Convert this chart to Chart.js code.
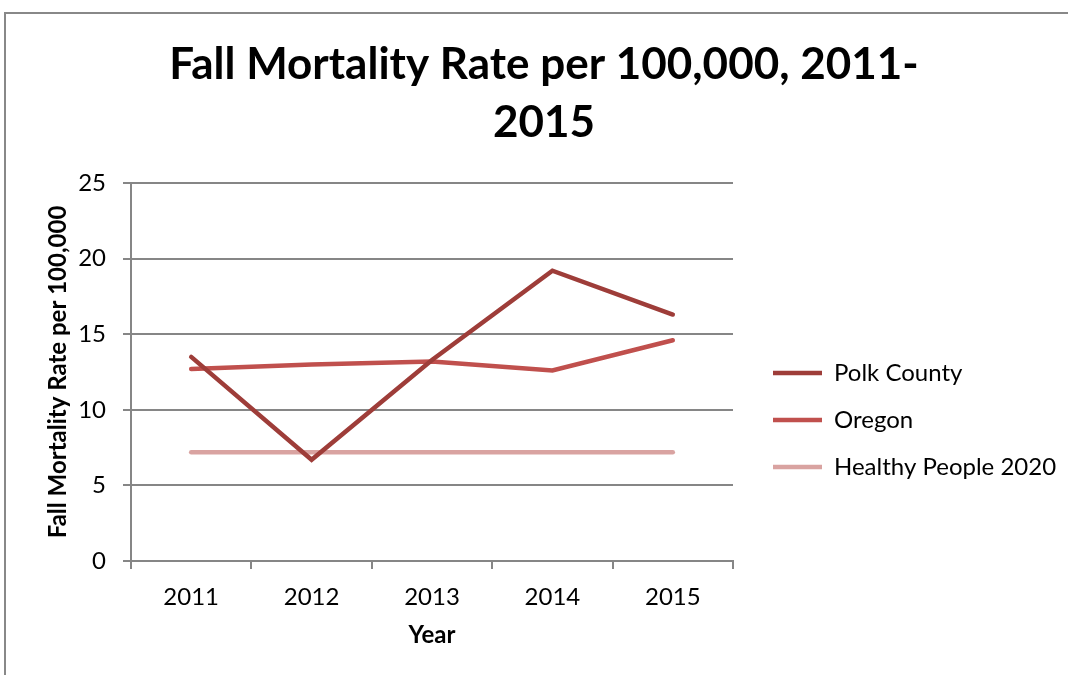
<!DOCTYPE html>
<html>
<head>
<meta charset="utf-8">
<script src="https://cdn.jsdelivr.net/npm/chart.js@4/dist/chart.umd.min.js"></script>
<style>
	html, body {
		margin: 0;
		padding: 0;
		background: #ffffff;
		overflow: hidden;
	}
	#frame {
		position: absolute;
		left: 4px;
		top: 12px;
		width: 1100px;
		height: 700px;
		border-left: 2px solid #888888;
		border-top: 2px solid #888888;
	}
	#wrap {
		position: absolute;
		left: 0;
		top: 0;
		width: 1068px;
		height: 675px;
	}
</style>
</head>
<body>
<div id="frame"></div>
<div id="wrap"><canvas id="fallChart" width="1068" height="675"></canvas></div>
<script>
const years = ['2011', '2012', '2013', '2014', '2015'];
const polkCounty = [13.5, 6.7, 13.3, 19.2, 16.3];
const oregon = [12.7, 13.0, 13.2, 12.6, 14.6];
const healthyPeople2020 = [7.2, 7.2, 7.2, 7.2, 7.2];
const seriesNames = ['Polk County', 'Oregon', 'Healthy People 2020'];
const titleLines = ['Fall Mortality Rate per 100,000, 2011-', '2015'];
const yTicks = [0, 5, 10, 15, 20, 25];

const fontFamily = 'Lato, "Open Sans", sans-serif';
const gridColor = '#868686';
const legendFontSize = 24;
const legendPadding = 23;
const legendLine = 49;

//Work out how wide the legend will be so the plot ends where it should
const measureCtx = document.createElement('canvas').getContext('2d');
measureCtx.font = legendFontSize + 'px ' + fontFamily;
let legendTextWidth = 0;
seriesNames.forEach(function(name) {
	legendTextWidth = Math.max(legendTextWidth, measureCtx.measureText(name).width);
});
const legendWidth = legendPadding + legendLine + legendFontSize / 2 + legendTextWidth + 11;
const plotLeft = 131;
const plotRight = 732;
const legendGap = 17;
const rightPadding = Math.max(0, 1068 - plotRight - legendGap - legendWidth);
//left padding keeps the chart title centred where the original has it
const leftPadding = rightPadding + 20;

function lineDataset(label, data, color) {
	return {
		label: label,
		data: data,
		borderColor: color,
		backgroundColor: color,
		borderWidth: 4.5,
		borderCapStyle: 'round',
		borderJoinStyle: 'miter',
		pointRadius: 0,
		pointHoverRadius: 0,
		tension: 0,
		fill: false,
		yAxisID: 'y'
	};
}

Chart.defaults.font.family = fontFamily;
Chart.defaults.color = '#000000';

new Chart(document.getElementById('fallChart'), {
	type: 'line',
	data: {
		labels: years,
		datasets: [
			lineDataset(seriesNames[0], polkCounty, '#9E3D39'),
			lineDataset(seriesNames[1], oregon, '#C0504D'),
			lineDataset(seriesNames[2], healthyPeople2020, '#D9A3A1')
		]
	},
	options: {
		responsive: false,
		animation: false,
		layout: {
			padding: {left: leftPadding, top: 0, right: rightPadding, bottom: 0}
		},
		scales: {
			x: {
				offset: true,
				grid: {
					offset: true,
					drawOnChartArea: false,
					color: gridColor,
					lineWidth: 2,
					tickLength: 8
				},
				border: {color: gridColor, width: 2},
				ticks: {
					padding: 14,
					font: {size: 24}
				},
				title: {
					display: true,
					text: 'Year',
					font: {size: 24, weight: 'bold'},
					padding: {top: 0, bottom: 25}
				},
				afterFit: function(scale) {
					scale.height = 114;
				}
			},
			y: {
				position: 'left',
				min: 0,
				max: 25,
				afterBuildTicks: function(scale) {
					scale.ticks = yTicks.map(function(v) { return {value: v}; });
				},
				grid: {
					color: gridColor,
					lineWidth: 2,
					tickLength: 8
				},
				border: {color: gridColor, width: 2},
				ticks: {
					padding: 17,
					font: {size: 24}
				},
				title: {
					display: true,
					text: 'Fall Mortality Rate per 100,000',
					font: {size: 24, weight: 'bold'},
					padding: {top: 44 - leftPadding, bottom: 0}
				},
				afterFit: function(scale) {
					scale.width = plotLeft - leftPadding;
				}
			},
			// empty axis, only used as a gap between plot and legend
			gap: {
				position: 'right',
				display: true,
				grid: {display: false},
				border: {display: false},
				ticks: {display: false},
				afterFit: function(scale) {
					scale.width = legendGap;
				}
			}
		},
		plugins: {
			title: {
				display: true,
				text: titleLines,
				font: {size: 44, weight: 'bold', lineHeight: 58 / 44},
				padding: {top: 36, bottom: 31}
			},
			legend: {
				position: 'right',
				align: 'start',
				maxWidth: 500,
				title: {
					display: true,
					text: ' ',
					font: {size: 10, lineHeight: 1},
					padding: {top: 164, bottom: 164}
				},
				labels: {
					usePointStyle: true,
					pointStyle: 'line',
					pointStyleWidth: legendLine,
					boxHeight: legendFontSize,
					padding: legendPadding,
					font: {size: legendFontSize}
				}
			},
			tooltip: {enabled: false}
		}
	}
});
</script>
</body>
</html>
